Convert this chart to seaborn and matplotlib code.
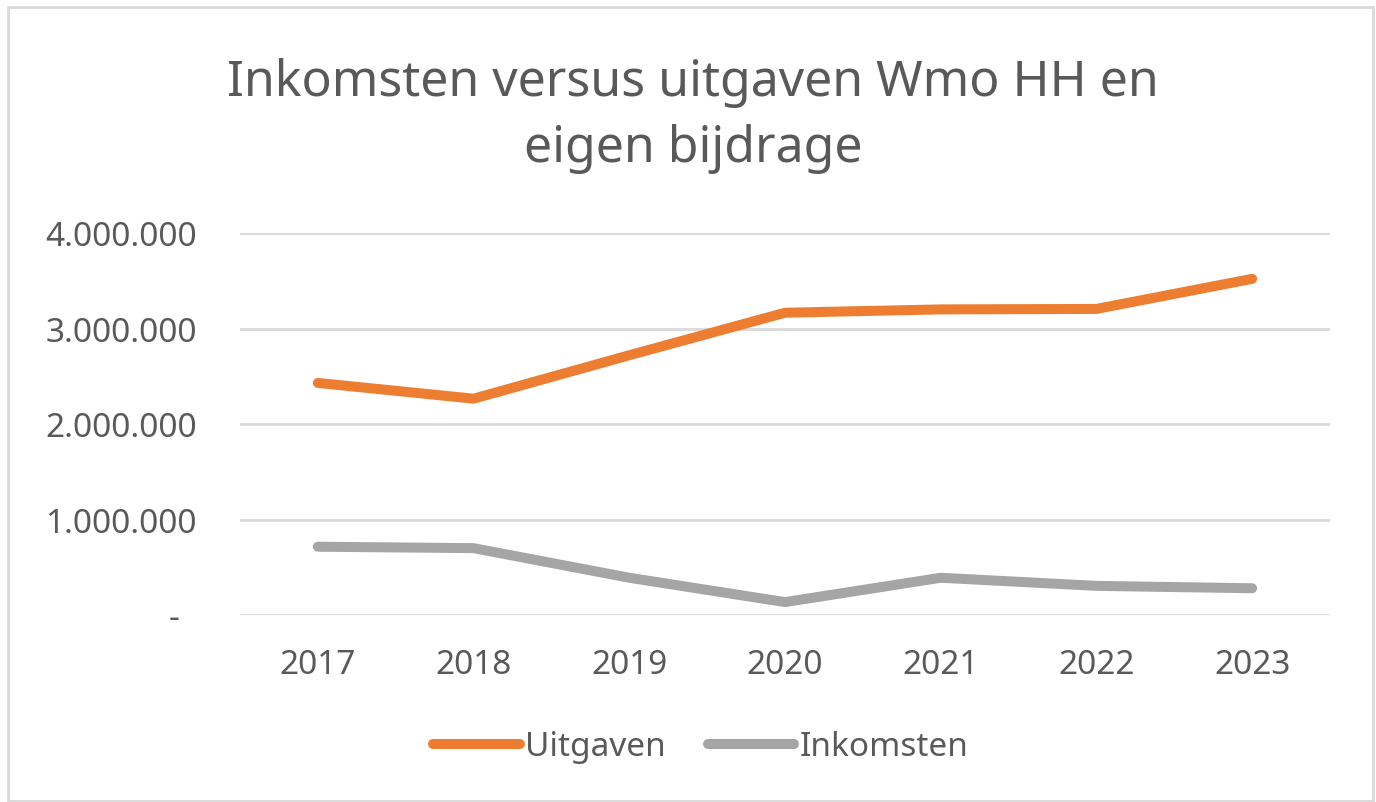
import matplotlib
matplotlib.use("Agg")
import matplotlib.pyplot as plt
import matplotlib.transforms as mtransforms
from matplotlib.patches import Rectangle
from matplotlib.ticker import FuncFormatter
import pandas as pd
import seaborn as sns

years = ["2017", "2018", "2019", "2020", "2021", "2022", "2023"]
uitgaven = [2430000, 2265000, 2720000, 3165000, 3200000, 3205000, 3520000]
inkomsten = [715000, 700000, 390000, 135000, 390000, 305000, 280000]
series_names = ["Uitgaven", "Inkomsten"]
title = "Inkomsten versus uitgaven Wmo HH en\neigen bijdrage"

df = pd.DataFrame({"jaar": years, "Uitgaven": uitgaven, "Inkomsten": inkomsten})
df = df.melt(id_vars="jaar", value_vars=series_names, var_name="reeks", value_name="bedrag")

sns.set_theme(style="white")
plt.rcParams["font.family"] = ["Noto Sans", "DejaVu Sans"]
txt = "#595959"

fig = plt.figure(figsize=(13.76, 8.03), dpi=100)
ax = fig.add_axes([240 / 1376, 1 - 616 / 803, 1090 / 1376, 382 / 803])

sns.lineplot(data=df, x="jaar", y="bedrag", hue="reeks", hue_order=series_names,
             palette=["#ED7D31", "#A5A5A5"], linewidth=7.2, ax=ax, sort=False,
             solid_capstyle="round")

ax.set_xlim(-0.5, 6.5)
ax.set_ylim(0, 4000000)
ax.set_yticks([0, 1000000, 2000000, 3000000, 4000000])


def fmt(v, pos):
    if v == 0:
        return "-"
    return f"{int(v):,}".replace(",", ".")


ax.yaxis.set_major_formatter(FuncFormatter(fmt))
ax.grid(axis="y", color="#D9D9D9", linewidth=2)
ax.grid(axis="x", visible=False)
for s in ax.spines.values():
    s.set_visible(False)
ax.tick_params(axis="x", length=0, pad=24, labelsize=24, labelcolor=txt)
ax.tick_params(axis="y", length=0, pad=31, labelsize=24, labelcolor=txt)
ax.set_xlabel("")
ax.set_ylabel("")

# the zero dash sits a bit to the left like Excel's accounting format
fig.canvas.draw()
lab0 = ax.get_yticklabels()[0]
lab0.set_transform(lab0.get_transform() + mtransforms.ScaledTranslation(-0.17, 0, fig.dpi_scale_trans))

fig.text(0.5035, 1 - 116 / 803, title, ha="center", va="center", fontsize=36,
         color=txt, linespacing=1.4)

leg = ax.legend(loc="center", bbox_to_anchor=(0.5093, 1 - 748 / 803),
                bbox_transform=fig.transFigure, ncol=2, frameon=False,
                fontsize=24, handlelength=2.6, handletextpad=0.15,
                columnspacing=1.25, labelcolor=txt)
for h in leg.get_lines():
    h.set_linewidth(7.2)
    h.set_solid_capstyle("round")

fig.patches.append(Rectangle((8 / 1376, 1 / 803), 1365 / 1376, 794 / 803,
                             transform=fig.transFigure, fill=False,
                             edgecolor="#D9D9D9", linewidth=2))

fig.savefig("out.png", dpi=100, facecolor="white")
